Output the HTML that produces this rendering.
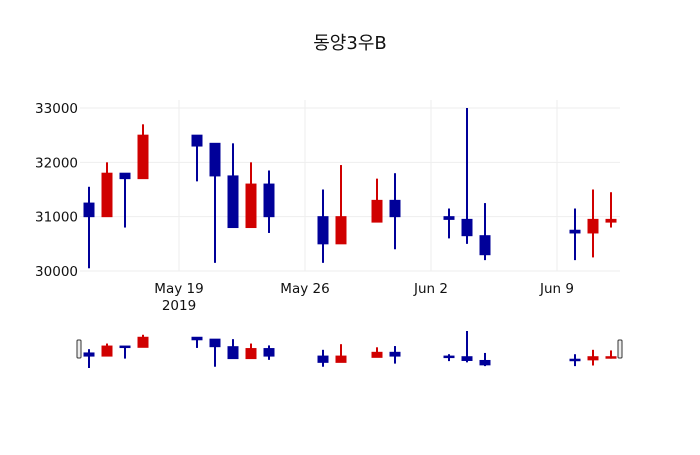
<!DOCTYPE html>
<html><head><meta charset="utf-8">
<style>
body{margin:0;background:#fff;}
svg text{font-family:"DejaVu Sans","Noto Sans CJK KR",sans-serif;}
</style></head>
<body>
<svg id="chart" width="700" height="450" xmlns="http://www.w3.org/2000/svg">
<rect width="700" height="450" fill="#fff"/>
<text x="350" y="49" text-anchor="middle" font-size="18" fill="#111">동양3우B</text>
<g id="grid"></g><g id="marks"></g><g id="slider"></g><g id="axes"></g>
</svg>
<script>
const dates=["2019-05-14","2019-05-15","2019-05-16","2019-05-17","2019-05-20","2019-05-21","2019-05-22","2019-05-23","2019-05-24","2019-05-27","2019-05-28","2019-05-30","2019-05-31","2019-06-03","2019-06-04","2019-06-05","2019-06-10","2019-06-11","2019-06-12"];
const opens=[31250,31000,31800,31700,32500,32350,31750,30800,31600,31000,30500,30900,31300,31000,30950,30650,30750,30700,30900];
const highs=[31550,32000,31800,32700,32500,32350,32350,32000,31850,31500,31950,31700,31800,31150,33000,31250,31150,31500,31450];
const lows=[30050,31000,30800,31700,31650,30150,30800,30800,30700,30150,30500,30900,30400,30600,30500,30200,30200,30250,30800];
const closes=[31000,31800,31700,32500,32300,31750,30800,31600,31000,30500,31000,31300,31000,30950,30650,30300,30700,30950,30950];
const yTicks=[30000,31000,32000,33000];
const xTicks=[["2019-05-19","May 19","2019"],["2019-05-26","May 26",""],["2019-06-02","Jun 2",""],["2019-06-09","Jun 9",""]];
const NS="http://www.w3.org/2000/svg";
const t0=Date.parse("2019-05-13T12:00:00Z"), t1=Date.parse("2019-06-12T12:00:00Z");
const X0=80,X1=620;
const xs=d=>X0+(Date.parse(d+"T00:00:00Z")-t0)/(t1-t0)*(X1-X0);
const ys=v=>271-(v-30000)*(163/3000);
const sMin=Math.min(...lows), sMax=Math.max(...highs);
const ss=v=>368-(v-sMin)/(sMax-sMin)*37;
function mk(tag,attrs,parent){const e=document.createElementNS(NS,tag);for(const k in attrs)e.setAttribute(k,attrs[k]);document.getElementById(parent).appendChild(e);return e;}
yTicks.forEach(v=>{
 const l=mk('line',{x1:X0,x2:X1,y1:ys(v),y2:ys(v),stroke:'#eee','stroke-width':1},'grid');
 
 
 const t=mk('text',{x:X0-2,y:ys(v)+5,'text-anchor':'end','font-size':13.5,fill:'#111'},'axes');
 t.textContent=v;
 
 
});
xTicks.forEach(tk=>{
 const x=xs(tk[0]);
 const l=mk('line',{x1:x,x2:x,y1:100,y2:271,stroke:'#eee','stroke-width':1},'grid');
 
 
 const t=mk('text',{x:x,y:293,'text-anchor':'middle','font-size':13.5,fill:'#111'},'axes');
 t.textContent=tk[1];
 
 
 if(tk[2]){const t2=mk('text',{x:x,y:310,'text-anchor':'middle','font-size':13.5,fill:'#111'},'axes');t2.textContent=tk[2];
 
 }
});
function candle(i,yf,parent,bw,ww){
 const x=xs(dates[i]);const up=closes[i]>=opens[i];const c=up?'#d00000':'#000099';
 const g=mk('g',{},parent);
 
 
 const w=document.createElementNS(NS,'line');
 [['x1',x],['x2',x],['y1',yf(highs[i])],['y2',yf(lows[i])],['stroke',c],['stroke-width',ww]].forEach(a=>w.setAttribute(a[0],a[1]));g.appendChild(w);
 const top=yf(Math.max(opens[i],closes[i])),bot=yf(Math.min(opens[i],closes[i]));
 const r=document.createElementNS(NS,'rect');
 [['x',x-bw/2],['y',top],['width',bw],['height',Math.max(bot-top,1.5)],['fill',c],['stroke',c],['stroke-width',1]].forEach(a=>r.setAttribute(a[0],a[1]));g.appendChild(r);
}
dates.forEach((d,i)=>candle(i,ys,'marks',10,2));
dates.forEach((d,i)=>candle(i,ss,'slider',10,2));
[X0-3,X1-2].forEach((x,k)=>{
 const h=mk('rect',{x:x,y:340,width:4,height:18,rx:1,fill:'#eee',stroke:'#333','stroke-width':1},'slider');
 
 
});
</script>
</body></html>
